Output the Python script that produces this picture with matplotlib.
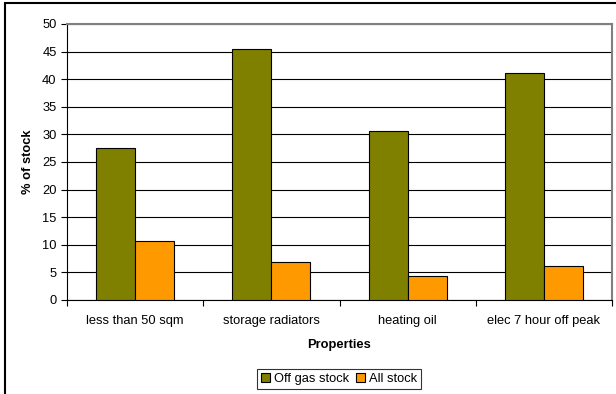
import matplotlib
matplotlib.use("Agg")
import matplotlib.pyplot as plt
import numpy as np
from matplotlib.patches import Rectangle

plt.rcParams['font.family'] = ['Liberation Sans', 'DejaVu Sans']

categories = ["less than 50 sqm", "storage radiators", "heating oil", "elec 7 hour off peak"]
off_gas = [27.6, 45.5, 30.6, 41.1]
all_stock = [10.7, 6.9, 4.4, 6.2]

fs = 9.3

fig = plt.figure(figsize=(6.16, 3.94), dpi=100)
W, H = 616, 394
ax = fig.add_axes([67 / W, 1 - 300 / H, (612 - 67) / W, (300 - 24) / H])

x = np.arange(len(categories))
bw = 0.287
ax.bar(x - bw / 2, off_gas, bw, color="#808000", edgecolor="black", linewidth=0.8,
       label="Off gas stock", zorder=3)
ax.bar(x + bw / 2, all_stock, bw, color="#FF9900", edgecolor="black", linewidth=0.8,
       label="All stock", zorder=3)

ax.set_xlim(-0.5, len(categories) - 0.5)
ax.set_ylim(0, 50)
ax.set_yticks(np.arange(0, 51, 5))
ax.yaxis.grid(True, color="black", linewidth=0.8, zorder=0)
ax.set_axisbelow(True)

# category labels centred, ticks at boundaries
ax.set_xticks(x)
ax.set_xticklabels(categories, fontsize=fs)
ax.tick_params(axis="x", length=0, pad=10.5)
ax.set_xticks(np.arange(-0.5, len(categories)), minor=True)
ax.tick_params(axis="x", which="minor", length=4, width=0.8, direction="out")
ax.tick_params(axis="y", labelsize=fs, length=4, width=0.8, direction="out", pad=3.5)

for side in ["top", "right"]:
    ax.spines[side].set_color("#808080")
    ax.spines[side].set_linewidth(1.5)
for side in ["left", "bottom"]:
    ax.spines[side].set_color("black")
    ax.spines[side].set_linewidth(0.8)

ax.set_ylabel("% of stock", fontsize=fs, fontweight="bold", labelpad=6)
ax.set_xlabel("Properties", fontsize=fs, fontweight="bold", labelpad=9)

leg = fig.legend(loc="center", bbox_to_anchor=(339 / W, 1 - 379 / H), ncol=2,
                 fontsize=fs, frameon=True, fancybox=False, edgecolor="black",
                 handlelength=0.7, handleheight=0.7, handletextpad=0.3,
                 columnspacing=0.5, borderpad=0.3, borderaxespad=0)
leg.get_frame().set_linewidth(0.8)

# outer chart border
fig.patches.append(Rectangle((5 / W, -0.01), 1.02, 1 - 2.5 / H + 0.01, transform=fig.transFigure,
                             fill=False, edgecolor="black", linewidth=1.5))

fig.savefig("out.png", dpi=100)
